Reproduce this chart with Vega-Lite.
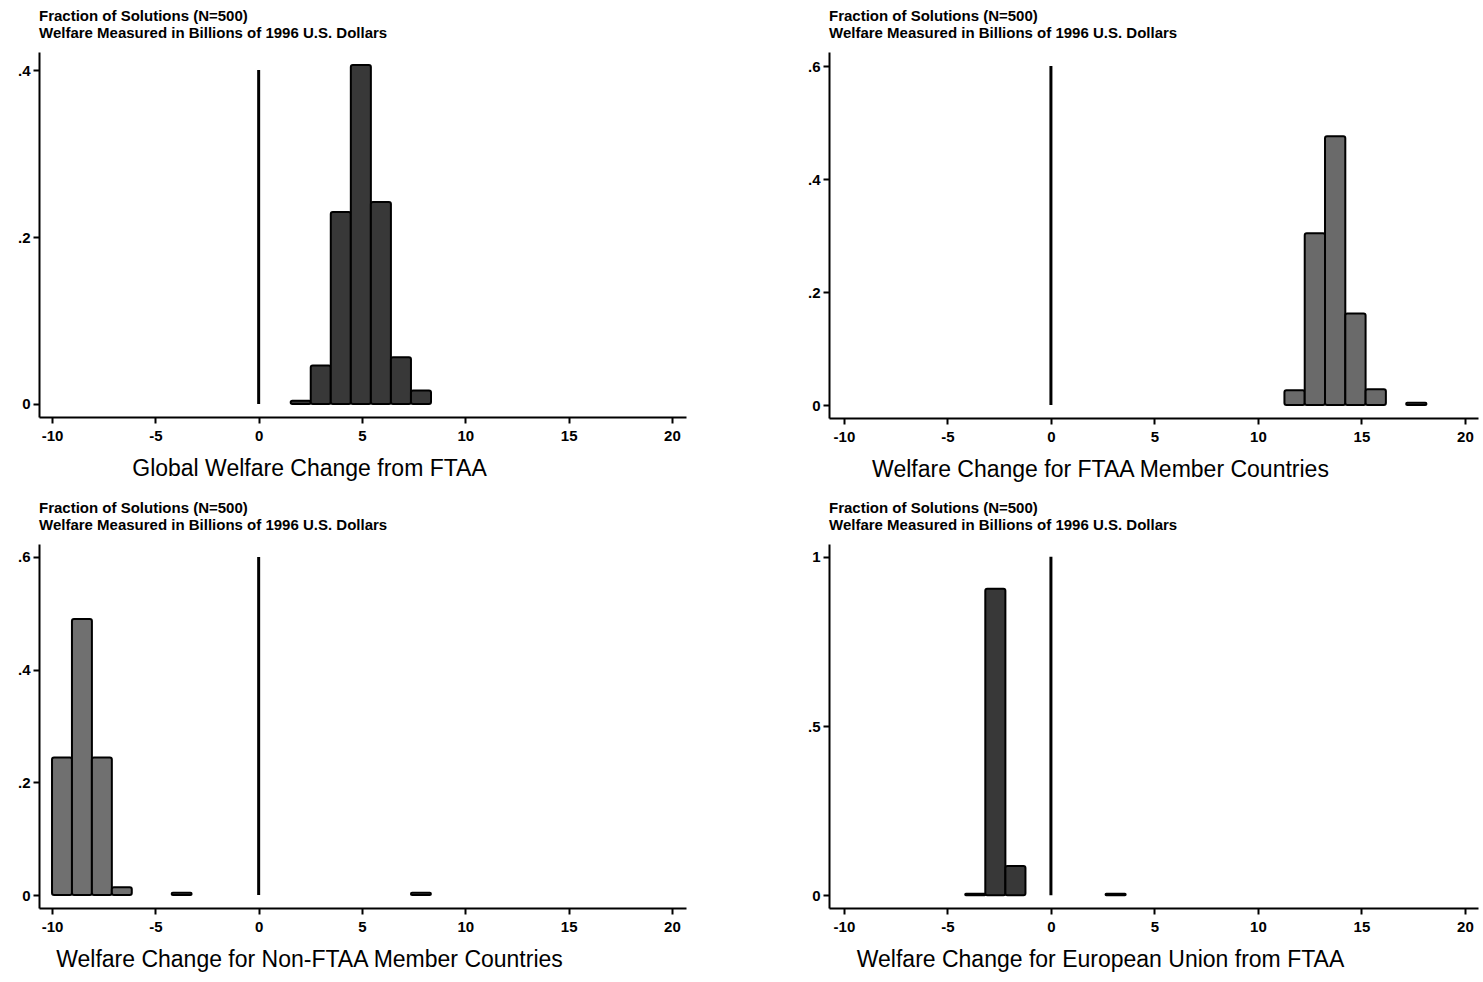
{
  "$schema": "https://vega.github.io/schema/vega-lite/v6.json",
  "background": "white",
  "padding": {"left": 17, "top": 9, "right": 2, "bottom": 2},
  "config": {
    "view": {"stroke": null},
    "axis": {
      "domainColor": "black", "domainWidth": 2, "tickColor": "black", "tickWidth": 2, "tickSize": 6,
      "labelFont": "Liberation Sans", "labelFontWeight": "bold", "labelFontSize": 15, "labelColor": "black", "labelPadding": 3,
      "titleFont": "Liberation Sans", "titleFontWeight": "normal", "titleFontSize": 23, "titleColor": "black", "grid": false
    },
    "axisX": {"titlePadding": 14, "labelPadding": 5, "titleAlign": "center", "labelExpr": "toString(datum.value)"},
    "axisY": {"labelExpr": "datum.value > 0 && datum.value < 1 ? slice(format(datum.value, '.1f'), 1) : format(datum.value, 'd')"},
    "title": {
      "anchor": "start", "frame": "group", "font": "Liberation Sans", "subtitleFont": "Liberation Sans",
      "fontSize": 15, "subtitleFontSize": 15, "fontWeight": "bold", "subtitleFontWeight": "bold",
      "color": "black", "subtitleColor": "black", "subtitlePadding": 2, "offset": 11
    }
  },
  "datasets": {
    "global": [
      {"bin_start": 1.55, "bin_end": 2.52, "fraction": 0.004},
      {"bin_start": 2.52, "bin_end": 3.49, "fraction": 0.046},
      {"bin_start": 3.49, "bin_end": 4.46, "fraction": 0.23},
      {"bin_start": 4.46, "bin_end": 5.43, "fraction": 0.406},
      {"bin_start": 5.43, "bin_end": 6.40, "fraction": 0.242},
      {"bin_start": 6.40, "bin_end": 7.37, "fraction": 0.056},
      {"bin_start": 7.37, "bin_end": 8.34, "fraction": 0.016}
    ],
    "ftaa": [
      {"bin_start": 11.28, "bin_end": 12.26, "fraction": 0.026},
      {"bin_start": 12.26, "bin_end": 13.24, "fraction": 0.304},
      {"bin_start": 13.24, "bin_end": 14.22, "fraction": 0.476},
      {"bin_start": 14.22, "bin_end": 15.20, "fraction": 0.162},
      {"bin_start": 15.20, "bin_end": 16.18, "fraction": 0.028},
      {"bin_start": 17.16, "bin_end": 18.14, "fraction": 0.004}
    ],
    "nonftaa": [
      {"bin_start": -10.0, "bin_end": -9.035, "fraction": 0.244},
      {"bin_start": -9.035, "bin_end": -8.07, "fraction": 0.49},
      {"bin_start": -8.07, "bin_end": -7.105, "fraction": 0.244},
      {"bin_start": -7.105, "bin_end": -6.14, "fraction": 0.014},
      {"bin_start": -4.21, "bin_end": -3.245, "fraction": 0.004},
      {"bin_start": 7.37, "bin_end": 8.335, "fraction": 0.004}
    ],
    "eu": [
      {"bin_start": -4.14, "bin_end": -3.17, "fraction": 0.004},
      {"bin_start": -3.17, "bin_end": -2.20, "fraction": 0.906},
      {"bin_start": -2.20, "bin_end": -1.23, "fraction": 0.086},
      {"bin_start": 2.64, "bin_end": 3.61, "fraction": 0.004}
    ]
  },
  "vconcat": [
    {
      "spacing": 121,
      "hconcat": [
        {
          "width": 647, "height": 365,
          "title": {"text": "Fraction of Solutions (N=500)", "subtitle": "Welfare Measured in Billions of 1996 U.S. Dollars"},
          "layer": [
            {
              "data": {"name": "global"},
              "mark": {"type": "rect", "fill": "#383838", "stroke": "black", "strokeWidth": 2, "cornerRadius": 2},
              "encoding": {
                "x": {"field": "bin_start", "type": "quantitative", "scale": {"domain": [-10.63, 20.68], "nice": false, "zero": false},
                      "axis": {"values": [-10, -5, 0, 5, 10, 15, 20], "title": "Global Welfare Change from FTAA", "titleX": 270}},
                "x2": {"field": "bin_end"},
                "y": {"field": "fraction", "type": "quantitative", "scale": {"domain": [-0.0156, 0.4216], "nice": false, "zero": false},
                      "axis": {"values": [0, 0.2, 0.4], "title": null}},
                "y2": {"datum": 0}
              }
            },
            {
              "data": {"values": [{"x": 0, "y_start": 0, "y_end": 0.4}]},
              "mark": {"type": "rule", "color": "black", "strokeWidth": 3},
              "encoding": {
                "x": {"field": "x", "type": "quantitative"},
                "y": {"field": "y_start", "type": "quantitative"},
                "y2": {"field": "y_end"}
              }
            }
          ]
        },
        {
          "width": 649, "height": 366,
          "title": {"text": "Fraction of Solutions (N=500)", "subtitle": "Welfare Measured in Billions of 1996 U.S. Dollars"},
          "layer": [
            {
              "data": {"name": "ftaa"},
              "mark": {"type": "rect", "fill": "#6a6a6a", "stroke": "black", "strokeWidth": 2, "cornerRadius": 2},
              "encoding": {
                "x": {"field": "bin_start", "type": "quantitative", "scale": {"domain": [-10.72, 20.63], "nice": false, "zero": false},
                      "axis": {"values": [-10, -5, 0, 5, 10, 15, 20], "title": "Welfare Change for FTAA Member Countries", "titleX": 271}},
                "x2": {"field": "bin_end"},
                "y": {"field": "fraction", "type": "quantitative", "scale": {"domain": [-0.023, 0.625], "nice": false, "zero": false},
                      "axis": {"values": [0, 0.2, 0.4, 0.6], "title": null}},
                "y2": {"datum": 0}
              }
            },
            {
              "data": {"values": [{"x": 0, "y_start": 0, "y_end": 0.6}]},
              "mark": {"type": "rule", "color": "black", "strokeWidth": 3},
              "encoding": {
                "x": {"field": "x", "type": "quantitative"},
                "y": {"field": "y_start", "type": "quantitative"},
                "y2": {"field": "y_end"}
              }
            }
          ]
        }
      ]
    },
    {
      "spacing": 121,
      "hconcat": [
        {
          "width": 647, "height": 364,
          "title": {"text": "Fraction of Solutions (N=500)", "subtitle": "Welfare Measured in Billions of 1996 U.S. Dollars"},
          "layer": [
            {
              "data": {"name": "nonftaa"},
              "mark": {"type": "rect", "fill": "#707070", "stroke": "black", "strokeWidth": 2, "cornerRadius": 2},
              "encoding": {
                "x": {"field": "bin_start", "type": "quantitative", "scale": {"domain": [-10.63, 20.68], "nice": false, "zero": false},
                      "axis": {"values": [-10, -5, 0, 5, 10, 15, 20], "title": "Welfare Change for Non-FTAA Member Countries", "titleX": 270}},
                "x2": {"field": "bin_end"},
                "y": {"field": "fraction", "type": "quantitative", "scale": {"domain": [-0.023, 0.623], "nice": false, "zero": false},
                      "axis": {"values": [0, 0.2, 0.4, 0.6], "title": null}},
                "y2": {"datum": 0}
              }
            },
            {
              "data": {"values": [{"x": 0, "y_start": 0, "y_end": 0.6}]},
              "mark": {"type": "rule", "color": "black", "strokeWidth": 3},
              "encoding": {
                "x": {"field": "x", "type": "quantitative"},
                "y": {"field": "y_start", "type": "quantitative"},
                "y2": {"field": "y_end"}
              }
            }
          ]
        },
        {
          "width": 649, "height": 364,
          "title": {"text": "Fraction of Solutions (N=500)", "subtitle": "Welfare Measured in Billions of 1996 U.S. Dollars"},
          "layer": [
            {
              "data": {"name": "eu"},
              "mark": {"type": "rect", "fill": "#383838", "stroke": "black", "strokeWidth": 2, "cornerRadius": 2},
              "encoding": {
                "x": {"field": "bin_start", "type": "quantitative", "scale": {"domain": [-10.72, 20.63], "nice": false, "zero": false},
                      "axis": {"values": [-10, -5, 0, 5, 10, 15, 20], "title": "Welfare Change for European Union from FTAA", "titleX": 271}},
                "x2": {"field": "bin_end"},
                "y": {"field": "fraction", "type": "quantitative", "scale": {"domain": [-0.038, 1.038], "nice": false, "zero": false},
                      "axis": {"values": [0, 0.5, 1], "title": null}},
                "y2": {"datum": 0}
              }
            },
            {
              "data": {"values": [{"x": 0, "y_start": 0, "y_end": 1}]},
              "mark": {"type": "rule", "color": "black", "strokeWidth": 3},
              "encoding": {
                "x": {"field": "x", "type": "quantitative"},
                "y": {"field": "y_start", "type": "quantitative"},
                "y2": {"field": "y_end"}
              }
            }
          ]
        }
      ]
    }
  ],
  "spacing": 20
}
